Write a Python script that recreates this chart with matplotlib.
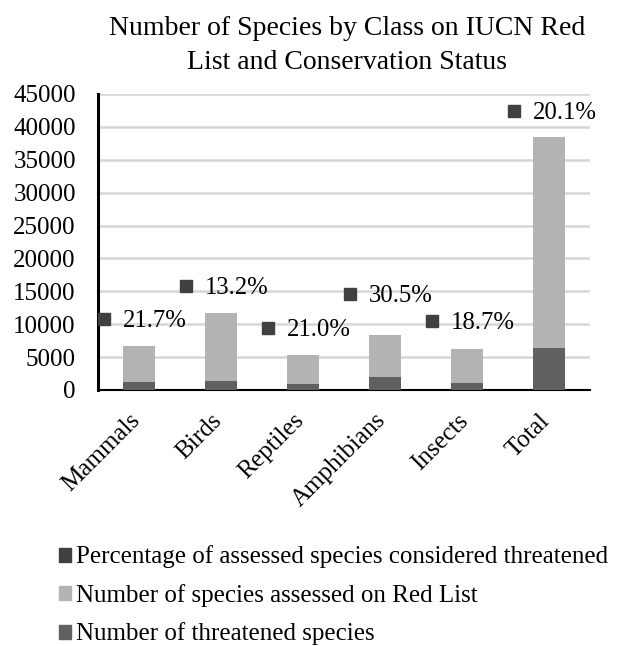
import matplotlib
matplotlib.use("Agg")
import matplotlib.pyplot as plt
from matplotlib.patches import Patch
from matplotlib.transforms import ScaledTranslation
import numpy as np

categories = ["Mammals", "Birds", "Reptiles", "Amphibians", "Insects", "Total"]
threatened = [1200, 1370, 920, 1950, 990, 6430]
assessed = [5530, 10400, 4380, 6400, 5290, 32000]
pct_labels = ["21.7%", "13.2%", "21.0%", "30.5%", "18.7%", "20.1%"]
# vertical placement of the (manually dragged) percentage labels
label_y = [10740, 15850, 9380, 14540, 10490, 42450]

title = "Number of Species by Class on IUCN Red\nList and Conservation Status"
leg_labels = ["Percentage of assessed species considered threatened",
              "Number of species assessed on Red List",
              "Number of threatened species"]

c_pct = "#404040"
c_ass = "#b3b3b3"
c_thr = "#606060"

plt.rcParams['font.family'] = ['Liberation Serif', 'DejaVu Serif']

fig = plt.figure(figsize=(6.18, 6.46), dpi=100)
ax = fig.add_axes([98/618, 1-390/646, 492/618, 296/646])

x = np.arange(len(categories))
ax.bar(x, threatened, width=0.4, color=c_thr, zorder=3)
ax.bar(x, assessed, width=0.4, bottom=threatened, color=c_ass, zorder=3)

mx = x - 0.43
ax.plot(mx, label_y, linestyle='none', marker='s', markersize=9.2,
        color=c_pct, zorder=4)
for xi, yi, t in zip(mx, label_y, pct_labels):
    ax.text(xi + 0.23, yi - 300, t, fontsize=17.8, ha='left', va='center',
            color='black', zorder=5)

ax.set_xlim(-0.5, len(categories) - 0.5)
ax.set_ylim(0, 45000)
ax.set_yticks(np.arange(0, 45001, 5000))
ax.yaxis.grid(True, color='#d6d6d6', linewidth=1.8, zorder=0)
ax.set_axisbelow(True)
for s in ['top', 'right']:
    ax.spines[s].set_visible(False)
ax.spines['left'].set_linewidth(2.2)
ax.spines['bottom'].set_linewidth(1.5)
ax.tick_params(axis='y', length=0, pad=16, labelsize=18)
ax.tick_params(axis='x', length=0, pad=14, labelsize=18)
ax.set_xticks(x)
ax.set_xticklabels(categories, rotation=45, ha='right', va='top',
                   rotation_mode='anchor')
shift = ScaledTranslation(-10/100, 0, fig.dpi_scale_trans)
for lab in ax.get_xticklabels():
    lab.set_transform(lab.get_transform() + shift)

fig.text(347/618, 1-45.5/646, title, ha='center', va='center', fontsize=20,
         linespacing=1.5)

handles = [Patch(color=c_pct), Patch(color=c_ass), Patch(color=c_thr)]
fig.legend(handles, leg_labels, loc='upper left',
           bbox_to_anchor=(46/618, 1-533/646), frameon=False, fontsize=18,
           handlelength=0.48, handleheight=0.48, handletextpad=0.2,
           labelspacing=0.62, borderpad=0)

fig.savefig("out.png", dpi=100)
